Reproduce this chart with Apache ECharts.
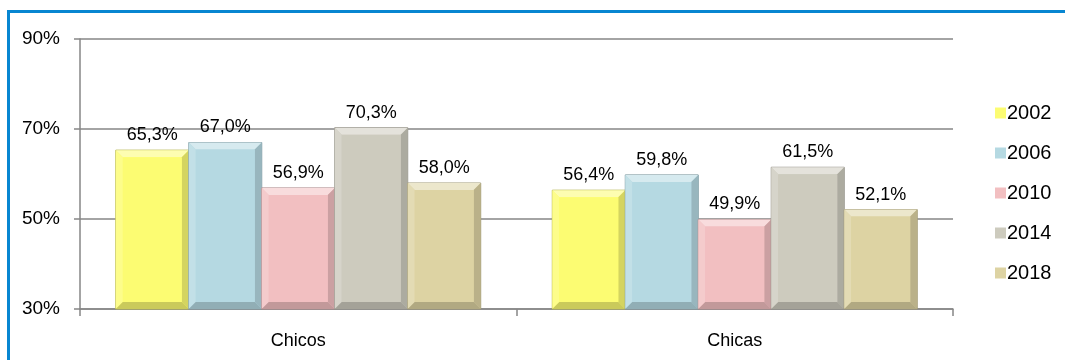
<!DOCTYPE html>
<html>
<head>
<meta charset="utf-8">
<script src="https://cdn.jsdelivr.net/npm/echarts@6/dist/echarts.min.js"></script>
<style>
  html, body { margin: 0; padding: 0; background: #fff; }
  #chart { width: 1065px; height: 360px; }
</style>
</head>
<body>
<div id="chart"></div>
<script>
// Categories and yearly shares (percent)
const categories = ['Chicos', 'Chicas'];
const years = ['2002', '2006', '2010', '2014', '2018'];
const values2002 = [65.3, 56.4];
const values2006 = [67.0, 59.8];
const values2010 = [56.9, 49.9];
const values2014 = [70.3, 61.5];
const values2018 = [58.0, 52.1];
const yTicks = [30, 50, 70, 90];

const seriesValues = [values2002, values2006, values2010, values2014, values2018];
const faceColors = ['#FCFC72', '#B5D9E2', '#F2BFC1', '#CDCBBE', '#DDD3A3'];

const Y_MIN = yTicks[0], Y_MAX = yTicks[yTicks.length - 1];
const GROUP_GAP = 0.164;   // share of a category band left empty
const BEVEL = 7;

function shade(hex, amt) {
  // amt > 0 lightens toward white, amt < 0 darkens toward black
  const n = parseInt(hex.slice(1), 16);
  let r = (n >> 16) & 255, g = (n >> 8) & 255, b = n & 255;
  const t = amt > 0 ? 255 : 0, p = Math.abs(amt);
  r = Math.round(r + (t - r) * p);
  g = Math.round(g + (t - g) * p);
  b = Math.round(b + (t - b) * p);
  return 'rgb(' + r + ',' + g + ',' + b + ')';
}

function fmt(v) {
  return v.toFixed(1).replace('.', ',') + '%';
}

// Bevelled bar: face, four slanted edges and the value label above it
function makeRender(idx, n) {
  const base = faceColors[idx];
  return function (params, api) {
    const c = api.value(0), v = api.value(1);
    const band = api.size([1, 0])[0];
    const inner = band * (1 - GROUP_GAP);
    const w = inner / n;
    const bottomPt = api.coord([c, Y_MIN]);
    const topPt = api.coord([c, v]);
    const x0 = bottomPt[0] - inner / 2 + idx * w;
    const x1 = x0 + w;
    const y0 = topPt[1];
    const y1 = bottomPt[1];
    const b = Math.min(BEVEL, w / 4, (y1 - y0) / 4);
    const poly = (pts, fill) => ({ type: 'polygon', shape: { points: pts }, style: { fill: fill }, silent: true });
    return {
      type: 'group',
      children: [
        { type: 'rect', shape: { x: x0, y: y0, width: w, height: y1 - y0 },
          style: { fill: base, stroke: shade(base, -0.28), lineWidth: 1 } },
        poly([[x0, y0], [x1, y0], [x1 - b, y0 + b], [x0 + b, y0 + b]], shade(base, 0.45)),
        poly([[x0, y0], [x0 + b, y0 + b], [x0 + b, y1 - b], [x0, y1]], shade(base, 0.18)),
        poly([[x1, y0], [x1, y1], [x1 - b, y1 - b], [x1 - b, y0 + b]], shade(base, -0.16)),
        poly([[x0, y1], [x0 + b, y1 - b], [x1 - b, y1 - b], [x1, y1]], shade(base, -0.2)),
        { type: 'rect', shape: { x: x0 + b, y: y0 + b, width: w - 2 * b, height: Math.max(0, y1 - y0 - 2 * b) },
          style: { fill: base } },
        { type: 'text', x: (x0 + x1) / 2, y: y0 - 6,
          style: { text: fmt(v), fill: '#000', font: '18px "Liberation Sans", Arial, sans-serif',
                   align: 'center', verticalAlign: 'bottom' } }
      ]
    };
  };
}

const series = years.map((yr, i) => ({
  name: yr,
  type: 'custom',
  renderItem: makeRender(i, years.length),
  itemStyle: { color: faceColors[i] },
  encode: { x: 0, y: 1 },
  data: seriesValues[i].map((v, k) => [k, v]),
  clip: false
}));

const chart = echarts.init(document.getElementById('chart'), null, { renderer: 'canvas' });
chart.setOption({
  animation: false,
  backgroundColor: '#fff',
  textStyle: { fontFamily: '"Liberation Sans", Arial, sans-serif' },
  graphic: [{
    type: 'rect', silent: true, z: 100,
    shape: { x: 8.5, y: 11.5, width: 1200, height: 500 },
    style: { fill: 'none', stroke: '#0786D1', lineWidth: 3 }
  }],
  grid: { left: 80, right: 112, top: 39, bottom: 51 },
  legend: {
    orient: 'vertical',
    left: 990,
    top: 98,
    itemWidth: 11,
    itemHeight: 11,
    itemGap: 20,
    icon: 'rect',
    textStyle: { fontSize: 20, color: '#000', padding: [0, 0, 0, -4] },
    data: years
  },
  xAxis: {
    type: 'category',
    data: categories,
    axisLine: { lineStyle: { color: '#868686', width: 1.5 } },
    axisTick: { show: true, alignWithLabel: false, length: 7, lineStyle: { color: '#868686', width: 1.5 } },
    axisLabel: { color: '#000', fontSize: 18, margin: 23 },
    splitLine: { show: false }
  },
  yAxis: {
    type: 'value',
    min: Y_MIN,
    max: Y_MAX,
    interval: 20,
    axisLine: { show: true, lineStyle: { color: '#868686', width: 1.5 } },
    axisTick: { show: true, length: 6, lineStyle: { color: '#868686', width: 1.5 } },
    axisLabel: { color: '#000', fontSize: 19, margin: 20, formatter: '{value}%' },
    splitLine: { show: true, lineStyle: { color: '#868686', width: 1.5 } }
  },
  series: series
});
</script>
</body>
</html>
